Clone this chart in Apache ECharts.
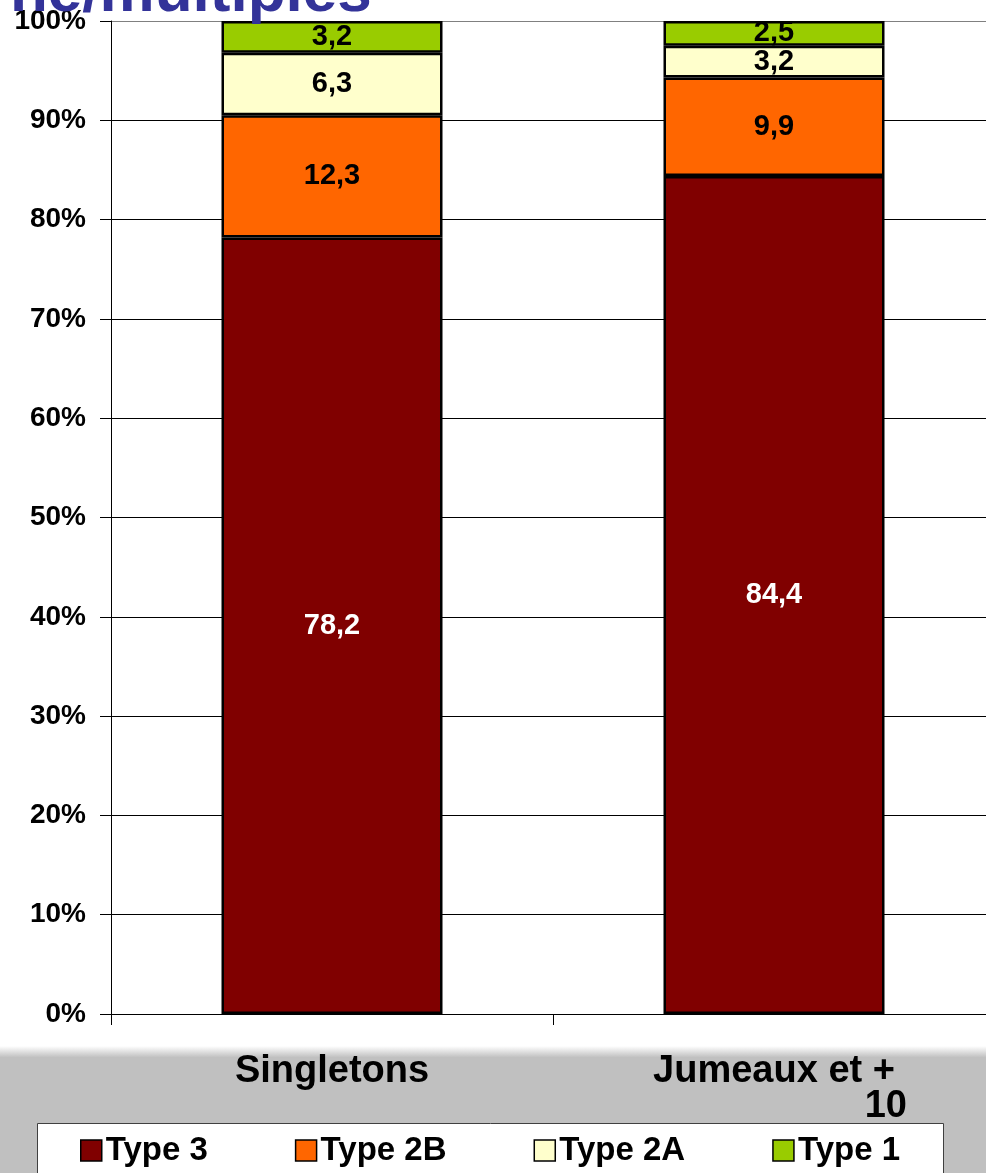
<!DOCTYPE html>
<html>
<head>
<meta charset="utf-8">
<script src="https://cdn.jsdelivr.net/npm/echarts@6/dist/echarts.min.js"></script>
<style>
html,body{margin:0;padding:0;background:#fff;}
#chart{width:986px;height:1173px;}
</style>
</head>
<body>
<div id="chart"></div>
<script>
const titleText = 'ne/multiples';
const categories = ['Singletons', 'Jumeaux et + 10'];
const seriesNames = ['Type 3', 'Type 2B', 'Type 2A', 'Type 1'];
const type3 = [78.2, 84.4];
const type2B = [12.3, 9.9];
const type2A = [6.3, 3.2];
const type1 = [3.2, 2.5];
const yTicks = [0, 10, 20, 30, 40, 50, 60, 70, 80, 90, 100];

const colors = ['#800000', '#ff6600', '#ffffcc', '#99cc00'];
const labelColors = ['#ffffff', '#000000', '#000000', '#000000'];
const values = [type3, type2B, type2A, type1];
const FONT = '"Liberation Sans", Arial, sans-serif';

const chart = echarts.init(document.getElementById('chart'), null, {renderer: 'canvas'});

const series = seriesNames.map((name, i) => ({
  name: name,
  type: 'bar',
  stack: 'total',
  barWidth: '50%',
  data: values[i],
  itemStyle: {color: colors[i], borderColor: '#000', borderWidth: 2.5},
  label: {
    show: true,
    position: 'inside',
    formatter: p => String(p.value).replace('.', ','),
    color: labelColors[i],
    fontSize: 29,
    fontWeight: 'bold',
    fontFamily: FONT
  },
  emphasis: {disabled: true}
}));

const splitColors = yTicks.map((t, i) => i === yTicks.length - 1 ? '#808080' : '#000000');

chart.setOption({
  animation: false,
  backgroundColor: '#ffffff',
  graphic: [
    {
      type: 'rect', z: -10, silent: true,
      shape: {x: 0, y: 1046, width: 986, height: 127},
      style: {
        fill: new echarts.graphic.LinearGradient(0, 0, 0, 1, [
          {offset: 0, color: '#ffffff'},
          {offset: 0.09, color: '#c0c0c0'},
          {offset: 1, color: '#c0c0c0'}
        ])
      }
    },
    {
      type: 'rect', z: -5, silent: true,
      shape: {x: 37.5, y: 1123.5, width: 906, height: 60},
      style: {fill: '#ffffff', stroke: '#404040', lineWidth: 1}
    },
    {
      type: 'text', z: 5, silent: true,
      x: 10, y: -6,
      style: {
        text: titleText,
        fill: '#333399',
        font: 'bold 62px ' + FONT,
        verticalAlign: 'middle',
        align: 'left'
      }
    }
  ],
  legend: {
    data: seriesNames,
    left: 80,
    top: 1134,
    padding: 0,
    itemGap: 87,
    itemWidth: 21,
    itemHeight: 21,
    icon: 'rect',
    itemStyle: {borderColor: '#000', borderWidth: 1.5},
    textStyle: {fontSize: 33, fontWeight: 'bold', color: '#000', fontFamily: FONT, lineHeight: 33, padding: [0, 0, 0, -1]}
  },
  grid: {left: 111, top: 21, width: 884, height: 993, containLabel: false, outerBoundsMode: 'none'},
  xAxis: {
    type: 'category',
    data: categories,
    axisLine: {show: true, lineStyle: {color: '#000', width: 1}},
    axisTick: {show: true, length: 11, lineStyle: {color: '#000'}},
    axisLabel: {
      margin: 40,
      interval: 0,
      formatter: function (v) {
        const idx = v.lastIndexOf(' ');
        if (v.indexOf('+') >= 0 && idx > 0) {
          return '{a|' + v.slice(0, idx) + '}\n{b|' + v.slice(idx + 1) + '}';
        }
        return '{a|' + v + '}';
      },
      rich: {
        a: {fontSize: 38, fontWeight: 'bold', color: '#000', fontFamily: FONT, lineHeight: 35, align: 'center', padding: [0, 12, 0, 12]},
        b: {fontSize: 38, fontWeight: 'bold', color: '#000', fontFamily: FONT, lineHeight: 35, align: 'right'}
      }
    },
    splitLine: {show: false}
  },
  yAxis: {
    type: 'value',
    min: 0,
    max: 100,
    interval: 10,
    axisLine: {show: true, lineStyle: {color: '#000', width: 1}},
    axisTick: {show: true, length: 11, lineStyle: {color: '#000'}},
    axisLabel: {
      margin: 25,
      formatter: '{value}%',
      fontSize: 28,
      fontWeight: 'bold',
      color: '#000',
      fontFamily: FONT
    },
    splitLine: {show: true, lineStyle: {color: splitColors, width: 1}}
  },
  series: series
});
</script>
</body>
</html>
